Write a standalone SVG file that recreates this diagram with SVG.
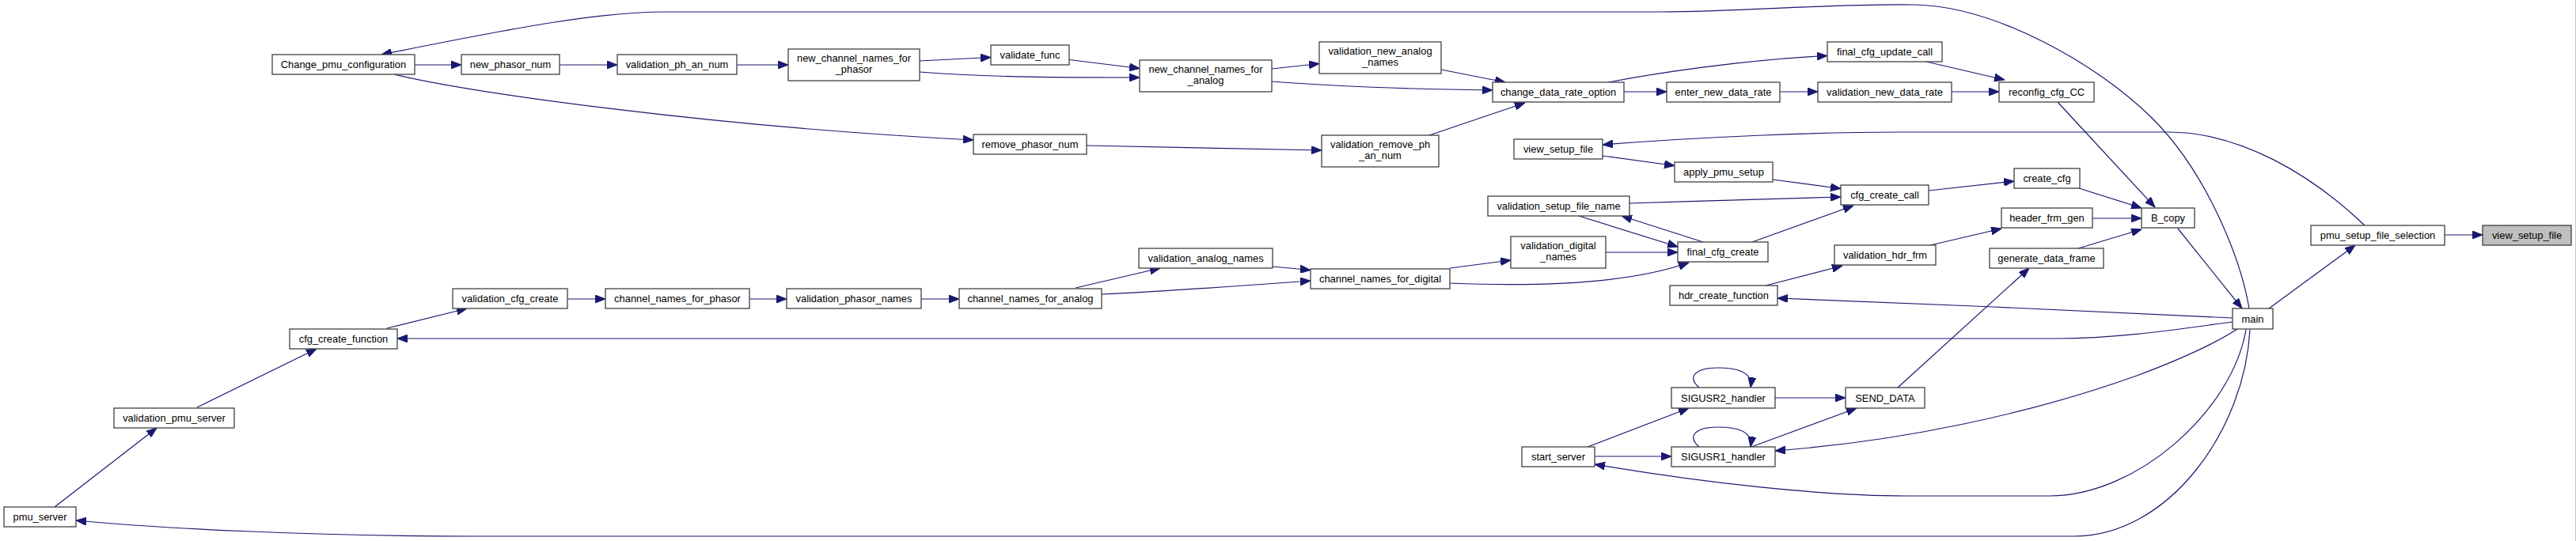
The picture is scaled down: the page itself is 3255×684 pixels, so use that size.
<svg xmlns="http://www.w3.org/2000/svg" width="3255" height="684" viewBox="0 0 3255 684">
<style>
.n rect{fill:#fff;stroke:#404040;stroke-width:1.3}
.n.f rect{fill:#bfbfbf}
.n text{font-family:"Liberation Sans",Arial,sans-serif;font-size:12.9px;text-anchor:middle;fill:#000}
.e path{fill:none;stroke:#191970;stroke-width:1.2;marker-end:url(#a)}
</style>
<defs>
<marker id="a" viewBox="0 0 13 10" refX="13" refY="5" markerWidth="13" markerHeight="10" markerUnits="userSpaceOnUse" orient="auto" preserveAspectRatio="none">
<path d="M0,0 L13,5 L0,10 z" fill="#191970" stroke="#191970" stroke-width="1"/>
</marker>
</defs>
<rect x="0" y="0" width="3255" height="684" fill="#fff"/>
<line x1="3254.5" y1="0" x2="3254.5" y2="684" stroke="#c8c8c8" stroke-width="1"/>
<g id="edges" class="e">
<path d="M2842,390 C2832,330 2790,220 2720,150 C2650,80 2520,8 2420,6 C2320,4 2200,15 2100,15 L840,15 C760,15 660,33 482,69"/>
<path d="M524,82 L583,82"/>
<path d="M707,82 L780,82"/>
<path d="M931,82 L996,82"/>
<path d="M498,94 C600,118 900,160 1230,177"/>
<path d="M1162,77 L1252,72.5"/>
<path d="M1162,91 C1250,98 1350,98 1440,98"/>
<path d="M1351,75.5 L1440,86.5"/>
<path d="M1607,87 L1667,80.5"/>
<path d="M1607,103 C1700,110 1800,113 1886,114"/>
<path d="M1821,88 L1902,104"/>
<path d="M1806,171 L1927,130"/>
<path d="M1373,184 C1480,186 1580,188 1670,190"/>
<path d="M2052,116 L2106,116"/>
<path d="M2032,104 C2090,93 2200,76 2309,70.5"/>
<path d="M2249,116 L2297,116"/>
<path d="M2466,116 L2526,116"/>
<path d="M2434,78 L2533,101"/>
<path d="M2600,129 L2723,262"/>
<path d="M2988,285 C2920,220 2830,167 2740,167 L2400,167 C2300,167 2150,173 2025,183"/>
<path d="M2025,197 L2116,209.5"/>
<path d="M2240,227 L2326,238.5"/>
<path d="M2059,257 C2150,254 2250,251 2326,249"/>
<path d="M1995,273 L2120,312"/>
<path d="M2152,306 L2049,273"/>
<path d="M2214,306 L2342,260"/>
<path d="M2437,241 L2545,229"/>
<path d="M2627,238 L2706,263"/>
<path d="M2644,276 L2706,276"/>
<path d="M2626,314 L2706,290"/>
<path d="M2439,310 L2529,289"/>
<path d="M2231,361 L2328,336"/>
<path d="M2029,319 L2120,319"/>
<path d="M1832,339 L1909,329"/>
<path d="M1832,358 C1950,363 2060,358 2134,332"/>
<path d="M1608,337 L1656,341.5"/>
<path d="M1359,364 L1466,339"/>
<path d="M1392,372 C1480,368 1560,362 1656,355"/>
<path d="M1164,378 L1212,378"/>
<path d="M947,378 L994,378"/>
<path d="M717,378 L765,378"/>
<path d="M489,415 L590,390"/>
<path d="M249,515 L400,441"/>
<path d="M69,641 L198,541"/>
<path d="M2843,417 C2836,545 2740,678 2620,678 L600,678 C400,678 200,668 96,658"/>
<path d="M2838,417 C2820,520 2700,627 2590,627 L2410,627 C2300,627 2150,610 2015,587"/>
<path d="M2827,416 C2790,440 2740,460 2700,475 C2560,525 2400,558 2243,570"/>
<path d="M2821,402 C2700,395 2400,383 2246,377"/>
<path d="M2821,407 C2760,415 2680,428 2600,428 L502,428"/>
<path d="M2867,390 L2976,310"/>
<path d="M2752,289 L2833,390"/>
<path d="M2398,490 L2564,339"/>
<path d="M2243,503 L2332,503"/>
<path d="M2213,565 L2346,516"/>
<path d="M2006,565 L2134,516"/>
<path d="M2015,577 L2112,577"/>
<path d="M2147,490 C2130,475 2145,465 2170,465 C2195,465 2215,470 2212,490"/>
<path d="M2147,565 C2130,550 2145,540 2170,540 C2195,540 2215,545 2212,565"/>
<path d="M3089,297 L3137,297"/>
</g>
<g id="n_Change_pmu_configuration" class="n"><rect x="344" y="69" width="180" height="25"/><text x="434" y="86">Change_pmu_configuration</text></g>
<g id="n_new_phasor_num" class="n"><rect x="583" y="69" width="124" height="25"/><text x="645" y="86">new_phasor_num</text></g>
<g id="n_validation_ph_an_num" class="n"><rect x="780" y="69" width="151" height="25"/><text x="855.5" y="86">validation_ph_an_num</text></g>
<g id="n_new_channel_names_for_phasor" class="n"><rect x="996" y="62" width="166" height="40"/><text x="1079" y="78.3">new_channel_names_for</text><text x="1079" y="92.3">_phasor</text></g>
<g id="n_validate_func" class="n"><rect x="1252" y="57" width="99" height="25"/><text x="1301.5" y="74">validate_func</text></g>
<g id="n_new_channel_names_for_analog" class="n"><rect x="1440" y="76" width="167" height="40"/><text x="1523.5" y="92.3">new_channel_names_for</text><text x="1523.5" y="106.3">_analog</text></g>
<g id="n_validation_new_analog_names" class="n"><rect x="1667" y="53" width="154" height="40"/><text x="1744" y="69.3">validation_new_analog</text><text x="1744" y="83.3">_names</text></g>
<g id="n_change_data_rate_option" class="n"><rect x="1886" y="104" width="166" height="25"/><text x="1969" y="121">change_data_rate_option</text></g>
<g id="n_enter_new_data_rate" class="n"><rect x="2106" y="104" width="143" height="25"/><text x="2177.5" y="121">enter_new_data_rate</text></g>
<g id="n_validation_new_data_rate" class="n"><rect x="2297" y="104" width="169" height="25"/><text x="2381.5" y="121">validation_new_data_rate</text></g>
<g id="n_reconfig_cfg_CC" class="n"><rect x="2526" y="104" width="120" height="25"/><text x="2586" y="121">reconfig_cfg_CC</text></g>
<g id="n_final_cfg_update_call" class="n"><rect x="2309" y="53" width="145" height="25"/><text x="2381.5" y="70">final_cfg_update_call</text></g>
<g id="n_remove_phasor_num" class="n"><rect x="1230" y="170" width="143" height="25"/><text x="1301.5" y="187">remove_phasor_num</text></g>
<g id="n_validation_remove_ph_an_num" class="n"><rect x="1670" y="171" width="148" height="40"/><text x="1744" y="187.3">validation_remove_ph</text><text x="1744" y="201.3">_an_num</text></g>
<g id="n_view_setup_file_2" class="n"><rect x="1913" y="176" width="112" height="25"/><text x="1969" y="193">view_setup_file</text></g>
<g id="n_apply_pmu_setup" class="n"><rect x="2116" y="205" width="124" height="25"/><text x="2178" y="222">apply_pmu_setup</text></g>
<g id="n_validation_setup_file_name" class="n"><rect x="1880" y="248" width="179" height="25"/><text x="1969.5" y="265">validation_setup_file_name</text></g>
<g id="n_cfg_create_call" class="n"><rect x="2326" y="234" width="111" height="25"/><text x="2381.5" y="251">cfg_create_call</text></g>
<g id="n_create_cfg" class="n"><rect x="2545" y="213" width="83" height="25"/><text x="2586.5" y="230">create_cfg</text></g>
<g id="n_header_frm_gen" class="n"><rect x="2529" y="263" width="115" height="25"/><text x="2586.5" y="280">header_frm_gen</text></g>
<g id="n_B_copy" class="n"><rect x="2706" y="263" width="67" height="25"/><text x="2739.5" y="280">B_copy</text></g>
<g id="n_validation_digital_names" class="n"><rect x="1909" y="299" width="120" height="40"/><text x="1969" y="315.3">validation_digital</text><text x="1969" y="329.3">_names</text></g>
<g id="n_final_cfg_create" class="n"><rect x="2120" y="306" width="114" height="25"/><text x="2177" y="323">final_cfg_create</text></g>
<g id="n_validation_hdr_frm" class="n"><rect x="2318" y="310" width="128" height="25"/><text x="2382" y="327">validation_hdr_frm</text></g>
<g id="n_generate_data_frame" class="n"><rect x="2514" y="314" width="144" height="25"/><text x="2586" y="331">generate_data_frame</text></g>
<g id="n_validation_analog_names" class="n"><rect x="1439" y="314" width="169" height="25"/><text x="1523.5" y="331">validation_analog_names</text></g>
<g id="n_channel_names_for_digital" class="n"><rect x="1656" y="340" width="176" height="25"/><text x="1744" y="357">channel_names_for_digital</text></g>
<g id="n_validation_cfg_create" class="n"><rect x="572" y="365" width="145" height="25"/><text x="644.5" y="382">validation_cfg_create</text></g>
<g id="n_channel_names_for_phasor" class="n"><rect x="765" y="365" width="182" height="25"/><text x="856" y="382">channel_names_for_phasor</text></g>
<g id="n_validation_phasor_names" class="n"><rect x="994" y="365" width="170" height="25"/><text x="1079" y="382">validation_phasor_names</text></g>
<g id="n_channel_names_for_analog" class="n"><rect x="1212" y="365" width="180" height="25"/><text x="1302" y="382">channel_names_for_analog</text></g>
<g id="n_hdr_create_function" class="n"><rect x="2110" y="361" width="136" height="25"/><text x="2178" y="378">hdr_create_function</text></g>
<g id="n_cfg_create_function" class="n"><rect x="366" y="416" width="136" height="25"/><text x="434" y="433">cfg_create_function</text></g>
<g id="n_main" class="n"><rect x="2821" y="390" width="51" height="26"/><text x="2846.5" y="407.5">main</text></g>
<g id="n_pmu_setup_file_selection" class="n"><rect x="2920" y="285" width="169" height="25"/><text x="3004.5" y="302">pmu_setup_file_selection</text></g>
<g id="n_view_setup_file" class="n f"><rect x="3137" y="285" width="112" height="25"/><text x="3193" y="302">view_setup_file</text></g>
<g id="n_SIGUSR2_handler" class="n"><rect x="2112" y="490" width="131" height="26"/><text x="2177.5" y="507.5">SIGUSR2_handler</text></g>
<g id="n_SEND_DATA" class="n"><rect x="2332" y="490" width="100" height="26"/><text x="2382" y="507.5">SEND_DATA</text></g>
<g id="n_SIGUSR1_handler" class="n"><rect x="2112" y="565" width="131" height="25"/><text x="2177.5" y="582">SIGUSR1_handler</text></g>
<g id="n_start_server" class="n"><rect x="1923" y="565" width="92" height="25"/><text x="1969" y="582">start_server</text></g>
<g id="n_validation_pmu_server" class="n"><rect x="144" y="516" width="152" height="25"/><text x="220" y="533">validation_pmu_server</text></g>
<g id="n_pmu_server" class="n"><rect x="5" y="641" width="91" height="25"/><text x="50.5" y="658">pmu_server</text></g>
</svg>
